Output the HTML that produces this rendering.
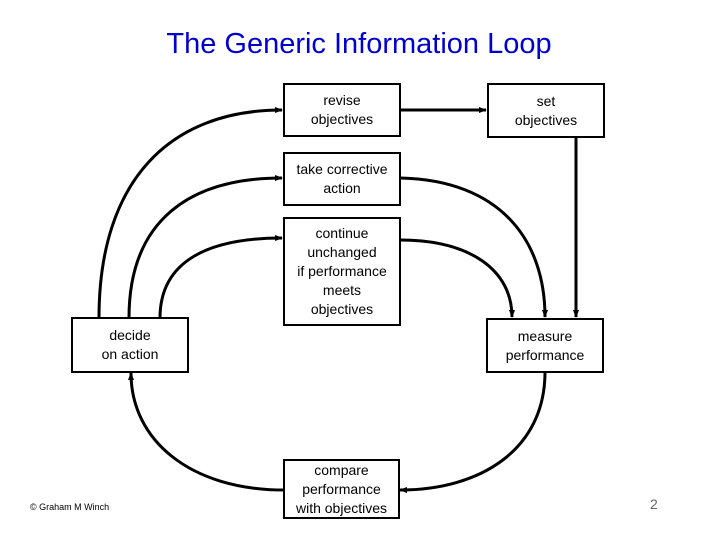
<!DOCTYPE html>
<html><head><style>
body{margin:0;background:#fff;}
.w{position:relative;width:720px;height:540px;overflow:hidden;font-family:"Liberation Sans",sans-serif;}
.b{position:absolute;border:2px solid #000;box-sizing:border-box;display:flex;align-items:center;justify-content:center;text-align:center;font-size:14px;line-height:19px;color:#000;background:#fff;}
</style></head><body><div class="w">
<div style="position:absolute;left:0;width:720px;top:28px;text-align:center;font-size:29px;color:#0000cc;padding-left:0px;"><span style="position:relative;left:-1px">The Generic Information Loop</span></div>
<svg width="720" height="540" style="position:absolute;left:0;top:0">
<defs><marker id="a" markerWidth="8" markerHeight="8" refX="7" refY="4" orient="auto" markerUnits="userSpaceOnUse"><path d="M0,1 L8,4 L0,7z" fill="#000"/></marker></defs>
<g fill="none" stroke="#000" stroke-width="3" marker-end="url(#a)">
<path d="M99,318 C99,180 170,110 282,110"/>
<path d="M129,318 C129,220 190,178 282,178"/>
<path d="M160,318 C160,260 210,238 282,238"/>
<path d="M400,110 L486,110"/>
<path d="M576,137 L576,317"/>
<path d="M400,178 C500,180 545,240 545,317"/>
<path d="M400,240 C470,240 512,270 512,317"/>
<path d="M545,372 C545,450 480,490 400,490"/>
<path d="M284,490 C190,490 131,440 131,373"/>
</g></svg>
<div class="b" style="left:283px;top:83px;width:118px;height:54px">revise<br>objectives</div>
<div class="b" style="left:487px;top:83px;width:118px;height:55px">set<br>objectives</div>
<div class="b" style="left:283px;top:152px;width:118px;height:54px">take corrective<br>action</div>
<div class="b" style="left:283px;top:217px;width:118px;height:109px">continue<br>unchanged<br>if performance<br>meets<br>objectives</div>
<div class="b" style="left:71px;top:317px;width:118px;height:56px;align-items:flex-start;padding-top:7px">decide<br>on action</div>
<div class="b" style="left:486px;top:318px;width:118px;height:55px">measure<br>performance</div>
<div class="b" style="left:283px;top:459px;width:117px;height:60px">compare<br>performance<br>with objectives</div>
<div style="position:absolute;left:30px;top:502px;font-size:9px">© Graham M Winch</div>
<div style="position:absolute;left:650px;top:496px;font-size:14px;color:#666">2</div>
</div></body></html>
